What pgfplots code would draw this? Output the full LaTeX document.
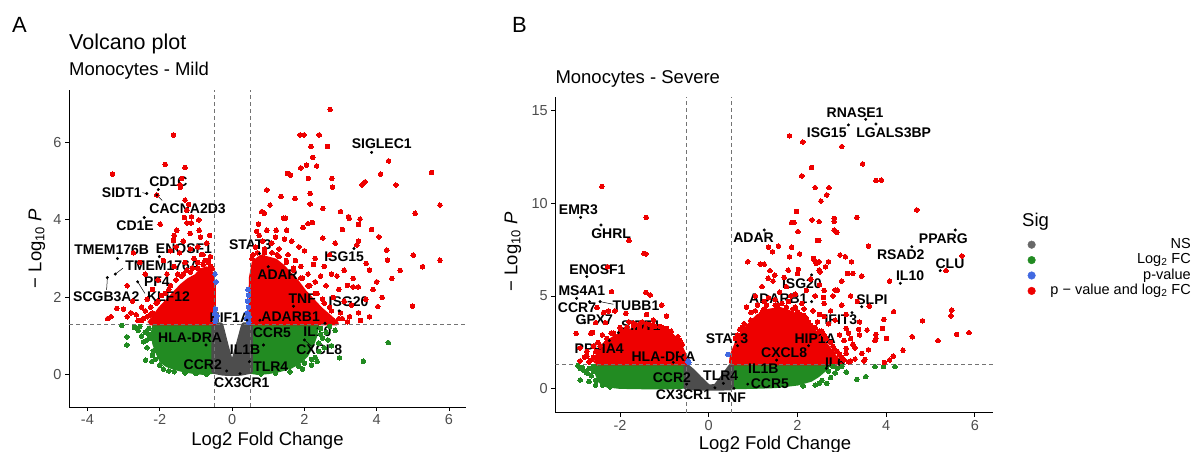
\documentclass[border=0pt]{standalone}
\usepackage{pgfplots}
\pgfplotsset{compat=1.18}
\usepackage{fontspec}
\setmainfont{Liberation Sans}
\definecolor{cR}{HTML}{EE0000}
\definecolor{cG}{HTML}{228B22}
\definecolor{cB}{HTML}{4169E1}
\definecolor{cN}{HTML}{4D4D4D}
\definecolor{cT}{HTML}{4D4D4D}
\pgfplotsset{
 pt/.style={only marks, mark=*, mark size=2.3pt, mark options={line width=0pt}},
 blob/.style={draw=#1, fill=#1, line width=4pt, line join=round, mark=none},
 dl/.style={black!55, line width=0.6pt, dash pattern=on 4pt off 3pt},
 lp/.style={only marks, mark=*, mark size=1.3pt, black},
 vbase/.style={scale only axis, axis x line*=bottom, axis y line*=left,
   axis line style={-, line width=0.8pt}, tick align=outside, major tick length=4pt,
   tick style={black, line width=0.8pt},
   ticklabel style={font=\fontsize{14.5}{15}\selectfont, text=cT},
   /pgf/number format/assume math mode=true,
   label style={font=\fontsize{18.5}{20}\selectfont},
   ylabel={\textminus{} Log\textsubscript{10} \textit{P}},
   xlabel={Log2 Fold Change}},
}
\tikzset{lbl/.style={font=\bfseries\fontsize{14}{14}\selectfont, inner sep=0pt},
 ln/.style={black, line width=0.5pt}}
\begin{document}
\begin{tikzpicture}[x=1pt,y=1pt]
\useasboundingbox (0,0) rectangle (1195,452);
\node[anchor=base west, inner sep=0pt, font=\fontsize{22}{22}\selectfont] at (12,419.3) {A};
\node[anchor=base west, inner sep=0pt, font=\fontsize{21.5}{22}\selectfont] at (69,402) {Volcano plot};
\node[anchor=base west, inner sep=0pt, font=\fontsize{18.5}{19}\selectfont] at (69,376) {Monocytes - Mild};
\node[anchor=base west, inner sep=0pt, font=\fontsize{22}{22}\selectfont] at (512,419.3) {B};
\node[anchor=base west, inner sep=0pt, font=\fontsize{18.5}{19}\selectfont] at (555.3,368.7) {Monocytes - Severe};
\node[anchor=base west, inner sep=0pt, font=\fontsize{18.5}{19}\selectfont] at (1022,225) {Sig};

% ---------------- Panel A: Mild ----------------
\begin{axis}[vbase, at={(69pt,45pt)}, anchor=south west, width=397pt, height=317pt,
  xmin=-4.51, xmax=6.47, ymin=-0.83, ymax=7.35,
  xtick={-4,-2,0,2,4,6}, ytick={0,2,4,6},
  xlabel style={at={(axis description cs:0.5,-0.107)}, anchor=center},
  ylabel style={at={(axis description cs:-0.081,0.5)}, anchor=center}]
% green
\addplot[blob=cG] coordinates {(-2.15,1.28)(-0.5,1.28)(-0.5,0.08)(-0.8,0.05)(-1.1,0.08)(-1.35,0.12)(-1.6,0.18)(-1.8,0.25)(-1.95,0.35)(-2.05,0.55)(-2.15,0.8)(-2.2,1.05)(-2.15,1.28)};
\addplot[blob=cG] coordinates {(0.5,1.28)(2.35,1.28)(2.3,1.0)(2.2,0.75)(2.05,0.5)(1.85,0.32)(1.6,0.2)(1.3,0.12)(1.0,0.07)(0.7,0.05)(0.5,0.08)(0.5,1.28)};
\addplot[pt, color=cG] coordinates {(-2.3,1.2)(-2.25,0.95)(-2.35,0.7)(-2.2,0.5)(-2.0,0.25)(-1.9,0.15)(-1.75,0.1)(-2.4,1.1)(-2.5,1.0)(-2.45,0.85)(-2.91,0.98)(-2.91,0.77)(-3.05,1.27)(-2.39,0.38)(-2.22,0.34)(-2.6,1.15)(-2.7,1.22)(-2.3,1.05)(-2.18,0.62)(-2.12,0.4)(-1.6,0.08)(-1.3,0.05)(-1.0,0.03)(-0.7,0.02)(-2.55,1.25)(-2.35,0.9)
(2.45,1.2)(2.5,0.95)(2.4,0.6)(2.2,0.4)(2.0,0.3)(1.85,0.22)(2.6,1.1)(2.85,1.15)(2.97,0.44)(3.63,0.35)(4.32,0.83)(2.65,0.9)(2.3,0.45)(1.95,0.15)(2.75,0.75)(2.55,0.7)(2.4,0.82)(2.45,1.05)(2.2,0.25)(1.6,0.08)(1.2,0.04)(0.8,0.02)(2.7,1.25)(2.35,0.35)};
% grey
\addplot[blob=cN] coordinates {(-0.52,1.3)(-0.3,1.3)(-0.15,0.75)(0,0.25)(0.15,0.75)(0.31,1.3)(0.52,1.3)(0.52,0.08)(0.25,0.03)(0,0.02)(-0.25,0.03)(-0.52,0.08)(-0.52,1.3)};
% red
\addplot[blob=cR] coordinates {(-2.3,1.33)(-0.5,1.33)(-0.5,2.3)(-0.55,2.6)(-0.7,2.75)(-0.85,2.7)(-1.0,2.55)(-1.2,2.45)(-1.4,2.3)(-1.6,2.1)(-1.8,1.9)(-2.0,1.7)(-2.15,1.5)(-2.3,1.33)};
\addplot[blob=cR] coordinates {(0.5,1.33)(2.9,1.33)(2.7,1.5)(2.45,1.7)(2.2,1.95)(2.0,2.15)(1.8,2.4)(1.6,2.6)(1.4,2.8)(1.2,2.95)(1.0,3.0)(0.8,3.05)(0.6,2.9)(0.52,2.5)(0.5,1.33)};
\addplot[pt, color=cR] coordinates {(-1.62,6.19)(-1.85,5.43)(-1.30,5.35)(-3.31,5.18)(-1.39,5.07)(-1.44,4.90)(-1.43,4.84)(-2.08,4.64)(-1.30,4.51)(-1.99,3.89)(-1.32,4.06)(-1.12,4.08)(-1.25,3.92)(-1.13,3.92)(-1.53,3.73)(-0.91,3.73)(-1.16,3.65)(-1.62,3.47)(-0.87,3.55)(-0.7,3.4)(-0.95,3.3)(-1.15,3.25)(-1.35,3.45)(-1.55,3.3)(-1.7,3.2)(-1.45,3.15)(-0.62,3.6)(-0.6,3.05)(-0.8,3.1)(-1.05,3.0)(-1.3,2.9)(-1.6,2.8)(-1.8,2.6)(-2.05,2.45)(-2.2,2.2)(-2.35,1.95)(-2.5,1.75)(-2.2,1.6)(-2.75,1.9)(-2.45,1.45)(-2.65,1.55)(-3.19,1.71)(-3.0,1.7)(-2.8,1.6)(-3.44,1.45)(-3.35,1.5)(-2.9,2.3)(-2.4,2.6)(-2.73,3.15)(-1.9,2.95)(-1.6,3.6)(-1.25,4.25)(-1.2,4.4)(-0.92,4.0)(-0.85,3.1)(-0.65,2.95)(-2.55,2.9)(-2.27,1.55)(-1.75,2.2)(-1.95,2.05)(-1.5,2.6)(-1.25,2.7)(-0.95,2.9)(-0.75,2.95)(-2.1,1.85)(-1.9,1.75)(-2.4,1.65)(-1.4,2.55)(-1.1,2.75)(-0.6,2.8)(-2.6,1.4)(-2.9,1.5)
(-2.25,1.75)(-2.05,1.9)(-1.85,2.1)(-1.7,2.3)(-1.55,2.45)(-1.35,2.6)(-1.15,2.65)(-0.95,2.75)(-0.8,2.85)(-0.65,2.9)(-0.55,2.75)(-2.35,1.5)(-2.5,1.4)
(2.71,6.85)(1.88,6.19)(1.99,6.19)(2.41,6.19)(2.18,5.89)(2.64,5.89)(2.23,5.61)(2.06,5.41)(2.34,5.39)(1.90,5.34)(1.53,5.20)(1.62,5.15)(2.76,5.07)(2.11,5.07)(0.96,4.77)(2.78,4.84)(2.16,4.68)(1.35,4.60)(1.74,4.55)(2.16,4.41)(1.05,4.38)(2.51,4.29)(0.82,4.21)(0.89,4.17)(1.42,4.04)(1.48,4.04)(3.0,4.21)(3.22,4.08)(3.24,4.04)(3.54,4.02)(3.50,3.88)(3.86,3.75)(3.05,3.75)(4.06,3.56)(1.96,3.8)(2.1,3.9)(2.22,3.93)(0.73,3.89)(0.68,3.7)(0.96,3.73)(1.22,3.73)(1.51,3.73)(2.51,3.53)(3.50,3.45)(3.45,3.35)(4.28,3.22)(5.01,3.09)(4.30,2.96)(5.75,2.96)(5.27,2.79)(4.65,2.69)(4.42,2.49)(4.0,2.40)(3.71,2.87)(3.80,2.70)(3.35,2.49)(3.49,2.27)(3.35,2.27)(3.19,2.31)(4.99,1.77)(4.03,1.76)(3.19,1.37)(5.52,5.22)(5.75,4.38)(5.06,4.17)(4.33,5.52)(4.11,5.18)(4.53,4.90)(3.68,4.98)(3.59,4.90)
(1.65,3.45)(1.85,3.3)(2.0,3.2)(2.3,3.0)(2.55,2.8)(2.75,2.6)(2.9,2.55)(3.1,2.7)(2.95,2.2)(3.1,1.9)(3.3,1.8)(3.5,1.6)(3.7,1.95)(2.6,2.3)(2.45,2.55)(2.3,2.4)(2.1,2.6)(1.9,2.8)(1.75,2.95)(1.55,3.1)(1.3,3.25)(1.1,3.4)(0.85,3.45)(0.65,3.3)(0.58,3.1)(2.25,2.85)(2.8,2.0)(2.5,1.95)(3.0,1.6)(3.25,1.5)(3.55,1.4)(2.7,3.1)(2.85,3.4)(1.45,3.5)(1.2,3.55)(0.75,3.6)(3.9,2.2)(4.15,2.0)(2.7,1.75)(2.6,1.45)(3.8,1.5)(2.35,2.1)(2.15,2.3)(1.95,2.5)(1.7,2.75)(1.5,2.95)(1.25,3.1)(2.5,1.6)(2.8,1.4)(3.05,1.45)(0.9,3.25)
(0.55,3.0)(0.7,3.15)(0.9,3.15)(1.1,3.15)(1.3,3.05)(1.5,2.9)(1.7,2.7)(1.9,2.5)(2.1,2.3)(2.3,2.1)(2.55,1.85)(2.75,1.65)(2.95,1.45)};
% blue
\addplot[pt, color=cB] coordinates {(-0.47,2.60)(-0.44,2.40)(-0.48,1.58)(-0.45,1.45)(-0.47,1.38)(-0.42,1.52)(-0.46,1.7)(0.45,2.06)(0.43,1.9)(0.45,1.75)(0.42,1.6)(0.40,1.45)(0.46,1.35)(0.44,2.2)(0.47,1.5)};
% cut-offs
\addplot[dl] coordinates {(-0.5,-0.83)(-0.5,7.35)};
\addplot[dl] coordinates {(0.5,-0.83)(0.5,7.35)};
\addplot[dl] coordinates {(-4.51,1.301)(6.47,1.301)};
% labelled genes
\addplot[lp] coordinates {(3.86,5.74)(-2.04,4.78)(-2.36,4.68)(-2.08,4.64)(-2.43,4.06)(-3.17,3.0)(-2.01,3.05)(-3.23,2.6)(-2.61,2.40)(-3.45,2.51)(0.76,3.13)(3.37,3.26)(1.0,2.79)(1.70,1.77)(2.96,1.65)(0.41,1.41)(0.77,1.41)(2.57,1.33)(-0.72,0.77)(0.87,0.77)(2.0,0.9)(-0.15,0.10)(0.48,0.34)(0.22,0.03)};
\draw[ln] (axis cs:-2.48,4.70) -- (axis cs:-2.38,4.68);
\draw[ln] (axis cs:-2.08,4.64) -- (axis cs:-1.93,4.50);
\draw[ln] (axis cs:-3.23,2.6) -- (axis cs:-3.02,2.75);
\draw[ln] (axis cs:-3.47,2.19) -- (axis cs:-3.45,2.48);
\draw[ln] (axis cs:-2.41,2.1) -- (axis cs:-2.61,2.40);
\draw[ln] (axis cs:2.0,0.9) -- (axis cs:2.2,0.74);
\node[lbl] at (axis cs:4.14,5.96) {SIGLEC1};
\node[lbl] at (axis cs:-1.76,4.98) {CD1C};
\node[lbl] at (axis cs:-3.05,4.71) {SIDT1};
\node[lbl] at (axis cs:-1.23,4.30) {CACNA2D3};
\node[lbl] at (axis cs:-2.68,3.85) {CD1E};
\node[lbl] at (axis cs:-3.33,3.24) {TMEM176B};
\node[lbl] at (axis cs:-1.33,3.26) {ENOSF1};
\node[lbl] at (axis cs:-1.92,2.81) {TMEM176A};
\node[lbl] at (axis cs:-2.08,2.40) {PF4};
\node[lbl] at (axis cs:-3.48,2.01) {SCGB3A2};
\node[lbl] at (axis cs:-1.76,2.01) {KLF12};
\node[lbl] at (axis cs:0.50,3.35) {STAT3};
\node[lbl] at (axis cs:3.10,3.05) {ISG15};
\node[lbl] at (axis cs:1.26,2.59) {ADAR};
\node[lbl] at (axis cs:1.94,1.96) {TNF};
\node[lbl] at (axis cs:3.22,1.88) {ISG20};
\node[lbl] at (axis cs:-0.06,1.47) {HIF1A};
\node[lbl] at (axis cs:1.62,1.51) {ADARB1};
\node[lbl] at (axis cs:1.10,1.08) {CCR5};
\node[lbl] at (axis cs:2.36,1.11) {IL10};
\node[lbl] at (axis cs:-1.16,0.96) {HLA-DRA};
\node[lbl] at (axis cs:0.36,0.64) {IL1B};
\node[lbl] at (axis cs:2.41,0.66) {CXCL8};
\node[lbl] at (axis cs:-0.81,0.25) {CCR2};
\node[lbl] at (axis cs:1.07,0.21) {TLR4};
\node[lbl] at (axis cs:0.27,-0.20) {CX3CR1};
\end{axis}

% ---------------- Panel B: Severe ----------------
\begin{axis}[vbase, at={(555.3pt,39.3pt)}, anchor=south west, width=437.7pt, height=316pt,
  xmin=-3.46, xmax=6.41, ymin=-1.29, ymax=15.73,
  xtick={-2,0,2,4,6}, ytick={0,5,10,15},
  xlabel style={at={(axis description cs:0.502,-0.102)}, anchor=center},
  ylabel style={at={(axis description cs:-0.097,0.509)}, anchor=center},
  legend cell align=right,
  legend style={at={(1.4546,0.556)}, anchor=north east, draw=none, fill=none, inner sep=0pt,
    font=\fontsize{14.5}{15}\selectfont, row sep=0.4pt,
    /tikz/every odd column/.append style={column sep=14pt},
    nodes={inner sep=1pt, text height=10pt, text depth=3pt}}]
\addlegendimage{only marks, mark=*, mark size=3.8pt, color=cN!85!white}
\addlegendentry{NS}
\addlegendimage{only marks, mark=*, mark size=3.8pt, color=cG}
\addlegendentry{Log\textsubscript{2} FC}
\addlegendimage{only marks, mark=*, mark size=3.8pt, color=cB}
\addlegendentry{p-value}
\addlegendimage{only marks, mark=*, mark size=3.8pt, color=cR}
\addlegendentry{p \textminus{} value and log\textsubscript{2} FC}
% green
\addplot[blob=cG] coordinates {(-2.5,1.26)(-0.5,1.26)(-0.5,0.12)(-0.8,0.08)(-1.5,0.08)(-2.0,0.1)(-2.3,0.18)(-2.45,0.4)(-2.52,0.8)(-2.5,1.26)};
\addplot[blob=cG] coordinates {(0.5,1.26)(2.7,1.26)(2.6,1.0)(2.45,0.7)(2.3,0.48)(2.0,0.28)(1.5,0.14)(1.0,0.1)(0.5,0.08)(0.5,1.26)};
\addplot[pt, color=cG] coordinates {(-2.6,1.2)(-2.7,1.1)(-2.85,1.15)(-2.9,0.47)(-2.83,1.0)(-2.65,0.7)(-2.55,0.45)(-2.23,0.1)(-2.4,0.2)(-2.75,0.85)(-2.6,0.95)(-2.9,1.1)(-2.95,1.25)(-2.7,0.4)(-2.55,0.2)
(2.8,1.2)(2.9,1.1)(2.66,0.29)(2.4,0.2)(2.13,0.15)(3.34,0.5)(3.54,0.65)(3.75,1.19)(3.94,1.19)(4.20,1.19)(3.0,1.2)(2.75,0.6)(2.55,0.45)(3.1,0.9)(2.85,0.85)(2.7,0.95)(2.5,0.3)};
% grey
\addplot[blob=cN] coordinates {(-0.52,1.3)(-0.35,0.95)(-0.2,0.58)(0,0.12)(0.15,0.15)(0.3,0.6)(0.45,1.1)(0.52,1.3)(0.52,0.02)(0,0.0)(-0.52,0.02)(-0.52,1.3)};
% red
\addplot[blob=cR] coordinates {(-2.55,1.36)(-0.5,1.36)(-0.52,1.7)(-0.62,2.2)(-0.75,2.7)(-0.95,3.1)(-1.2,3.3)(-1.5,3.35)(-1.8,3.1)(-2.1,2.8)(-2.35,2.4)(-2.5,1.9)(-2.55,1.36)};
\addplot[blob=cR] coordinates {(0.5,1.36)(3.0,1.36)(2.85,1.7)(2.7,2.2)(2.5,2.8)(2.3,3.3)(2.1,3.8)(1.85,4.1)(1.6,4.3)(1.35,4.2)(1.1,3.9)(0.9,3.4)(0.75,3.0)(0.62,2.4)(0.52,1.8)(0.5,1.36)};
\addplot[pt, color=cR] coordinates {(-2.41,10.89)(-1.41,9.23)(-1.80,7.98)(-1.46,7.29)(-1.42,7.26)(-2.28,6.57)(-2.19,5.23)(-1.42,5.19)(-1.32,5.05)(-1.87,4.06)(-1.06,4.51)(-0.95,3.92)(-2.52,4.37)(-2.37,4.10)(-2.26,4.19)(-2.12,4.19)(-2.55,3.56)(-2.33,3.56)(-2.99,2.98)(-2.66,2.98)(-2.62,3.03)(-1.63,3.45)(-1.56,3.27)(-1.32,3.45)(-1.21,3.36)(-2.6,2.3)(-2.75,2.0)(-2.9,1.5)(-2.6,1.7)(-2.5,2.5)(-1.7,3.4)(-1.1,3.0)(-0.9,2.6)(-0.7,2.3)(-1.25,3.7)(-1.5,3.6)(-1.9,3.1)(-2.1,2.8)(-2.3,2.5)(-2.8,1.7)(-2.7,1.45)(-0.6,2.0)(-0.75,2.5)(-1.05,3.3)(-1.8,3.6)(-1.4,4.0)(-2.9,2.2)(-2.0,3.3)(-0.85,2.9)(-0.65,2.6)(-2.4,2.9)(-2.2,3.0)
(-2.55,2.0)(-2.45,2.3)(-2.3,2.7)(-2.15,3.0)(-2.0,3.05)(-1.85,3.3)(-1.7,3.55)(-1.55,3.5)(-1.4,3.5)(-1.25,3.45)(-1.1,3.35)(-0.95,3.25)(-0.85,3.1)(-0.7,2.8)(-0.6,2.4)(-2.65,1.55)(-2.75,1.75)
(1.82,13.62)(2.12,13.29)(3.0,13.04)(3.47,12.11)(2.32,11.91)(3.77,11.21)(3.89,11.24)(2.10,11.46)(2.40,10.83)(2.71,10.83)(2.66,10.44)(2.53,10.11)(4.69,9.63)(1.98,9.54)(3.34,9.23)(2.33,9.09)(2.49,9.0)(2.83,9.18)(2.83,9.0)(1.87,8.95)(1.92,8.95)(2.83,8.55)(2.89,8.42)(2.01,8.46)(2.45,7.98)(2.48,7.98)(1.57,7.69)(3.60,7.69)(1.87,7.62)(2.05,7.26)(1.44,7.38)(1.35,7.62)(2.96,7.2)(3.08,7.11)(2.36,7.02)(2.38,6.93)(5.71,7.15)(1.82,7.11)(2.49,6.84)(2.42,6.75)(0.88,6.84)(1.16,6.71)(1.25,6.71)(1.79,6.39)(2.02,6.43)(2.70,6.84)(2.63,6.57)(3.22,6.84)(2.49,6.39)(2.51,6.30)(5.35,6.36)(3.13,6.21)(3.25,6.21)(1.49,6.12)(1.38,6.36)(1.34,5.95)(4.08,5.80)(3.45,6.07)(2.85,5.32)(2.90,5.32)(2.59,4.92)(3.62,4.45)(4.17,4.15)(5.48,4.24)(5.46,3.93)(4.82,3.66)(3.95,3.74)(3.10,3.25)(3.38,3.20)(3.57,3.16)(3.77,2.93)(3.92,3.25)(5.59,2.93)(5.87,3.02)(4.59,2.80)(4.01,2.71)(5.17,2.59)(4.38,2.08)(3.77,2.71)(3.75,2.59)(4.16,1.76)(4.08,1.55)(3.96,1.42)(3.52,1.58)(3.1,2.17)(3.45,1.90)(3.0,5.8)(3.2,5.0)(3.0,4.5)(3.35,4.7)(3.1,4.0)(3.4,3.6)(2.8,5.0)(2.6,5.3)
(0.9,3.2)(1.0,3.6)(1.15,3.9)(1.25,4.3)(1.4,4.1)(1.55,4.5)(1.7,4.2)(1.8,4.7)(1.95,4.4)(2.05,4.0)(2.2,3.8)(2.3,3.4)(2.45,3.6)(2.55,3.1)(2.65,2.7)(2.8,2.3)(2.9,2.0)(3.0,1.7)(1.3,3.8)(1.45,3.7)(1.65,3.9)(1.9,3.75)(2.1,4.6)(2.35,4.2)(2.5,4.0)(2.7,3.5)(1.1,4.5)(1.35,4.9)(1.6,5.2)(1.75,5.5)(1.95,5.1)(2.2,5.3)(2.4,5.0)(2.6,4.6)(1.2,5.5)(1.45,5.8)(1.7,6.0)(2.0,6.2)(2.3,5.9)(2.5,5.6)(0.95,4.1)(1.05,5.0)(0.75,3.3)(0.65,2.9)(2.75,4.2)(2.85,3.7)(3.05,2.6)(3.15,3.0)(3.3,2.2)(3.1,1.9)(3.5,1.5)(3.3,1.6)(2.95,2.9)(3.2,2.7)(3.4,2.9)(0.85,4.4)(1.5,4.8)(2.15,4.3)(2.6,3.9)(1.25,4.7)(1.85,5.0)(3.25,2.4)(3.6,2.1)(3.2,1.5)
(0.6,2.7)(0.7,3.2)(0.8,3.5)(0.95,3.7)(1.05,4.2)(1.2,4.1)(1.3,4.5)(1.5,4.5)(1.65,4.6)(1.75,4.4)(1.9,4.3)(2.0,4.15)(2.15,3.95)(2.25,3.6)(2.4,3.3)(2.5,3.1)(2.6,2.9)(2.75,2.5)(2.85,2.1)(2.95,1.85)(3.05,1.55)(3.15,1.45)};
% blue
\addplot[pt, color=cB] coordinates {(0.43,1.85)(-0.47,1.49)(-0.45,1.42)};
% cut-offs
\addplot[dl] coordinates {(-0.5,-1.29)(-0.5,15.73)};
\addplot[dl] coordinates {(0.5,-1.29)(0.5,15.73)};
\addplot[dl] coordinates {(-3.46,1.301)(6.41,1.301)};
% labelled genes
\addplot[lp] coordinates {(3.54,14.51)(3.15,14.21)(3.77,14.26)(-2.89,9.23)(-2.43,8.82)(-2.75,6.04)(-2.98,4.87)(-2.69,4.69)(-2.45,4.69)(-2.80,3.56)(-2.04,3.02)(-2.24,2.59)(-0.80,1.42)(0.65,2.32)(1.25,8.55)(2.32,6.13)(2.32,4.69)(3.45,4.42)(3.23,4.10)(2.25,2.32)(1.53,1.54)(2.65,1.10)(0.88,0.25)(0.57,0.02)(0.33,0.29)(-0.50,0.25)(0.14,0.05)(5.56,8.55)(4.58,7.65)(5.22,6.36)(4.32,5.68)};
\draw[ln] (axis cs:-2.45,4.69) -- (axis cs:-2.15,4.55);
\draw[ln] (axis cs:2.65,1.10) -- (axis cs:2.72,1.3);
\node[lbl] at (axis cs:3.30,14.89) {RNASE1};
\node[lbl] at (axis cs:2.66,13.80) {ISG15};
\node[lbl] at (axis cs:4.17,13.81) {LGALS3BP};
\node[lbl] at (axis cs:-2.94,9.63) {EMR3};
\node[lbl] at (axis cs:-2.20,8.37) {GHRL};
\node[lbl] at (axis cs:-2.51,6.43) {ENOSF1};
\node[lbl] at (axis cs:-2.86,5.26) {MS4A1};
\node[lbl] at (axis cs:-2.97,4.38) {CCR7};
\node[lbl] at (axis cs:-1.64,4.47) {TUBB1};
\node[lbl] at (axis cs:-2.58,3.70) {GPX7};
\node[lbl] at (axis cs:-1.53,3.38) {SIDT1};
\node[lbl] at (axis cs:-2.47,2.17) {PPFIA4};
\node[lbl] at (axis cs:-1.02,1.72) {HLA-DRA};
\node[lbl] at (axis cs:0.41,2.68) {STAT3};
\node[lbl] at (axis cs:1.01,8.14) {ADAR};
\node[lbl] at (axis cs:2.10,5.68) {ISG20};
\node[lbl] at (axis cs:1.57,4.87) {ADARB1};
\node[lbl] at (axis cs:3.68,4.81) {SLPI};
\node[lbl] at (axis cs:2.98,3.70) {IFIT3};
\node[lbl] at (axis cs:2.40,2.71) {HIP1A};
\node[lbl] at (axis cs:1.70,1.94) {CXCL8};
\node[lbl] at (axis cs:1.23,1.10) {IL1B};
\node[lbl] at (axis cs:2.85,1.40) {IL6};
\node[lbl] at (axis cs:1.38,0.29) {CCR5};
\node[lbl] at (axis cs:0.53,-0.49) {TNF};
\node[lbl] at (axis cs:0.27,0.68) {TLR4};
\node[lbl] at (axis cs:-0.83,0.59) {CCR2};
\node[lbl] at (axis cs:-0.57,-0.31) {CX3CR1};
\node[lbl] at (axis cs:5.29,8.08) {PPARG};
\node[lbl] at (axis cs:4.33,7.20) {RSAD2};
\node[lbl] at (axis cs:5.44,6.75) {CLU};
\node[lbl] at (axis cs:4.54,6.07) {IL10};
\end{axis}
\end{tikzpicture}
\end{document}
